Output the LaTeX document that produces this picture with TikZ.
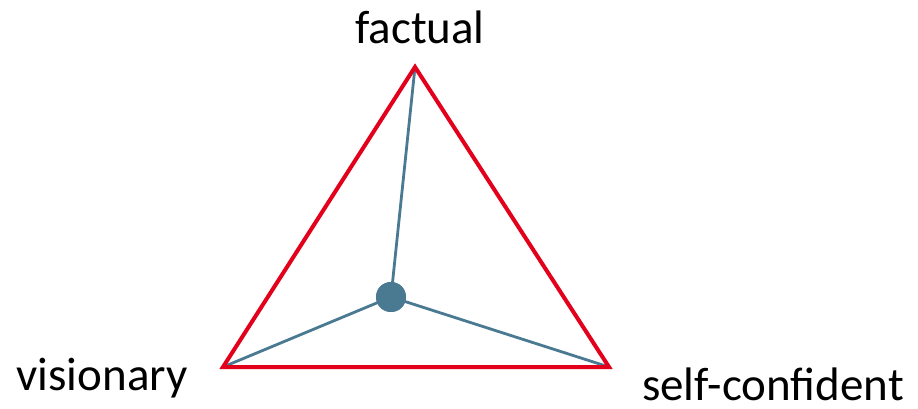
\documentclass[tikz,border=0pt]{standalone}
\usepackage{fontspec}
\setmainfont{Carlito}
\definecolor{tri}{HTML}{E3001B}
\definecolor{spoke}{HTML}{4A7A92}
\begin{document}
\begin{tikzpicture}[x=1pt,y=-1pt,
  lbl/.style={anchor=base,inner sep=0pt,font=\fontsize{47}{56}\selectfont},
  triline/.style={draw=tri,line width=4pt,line join=miter},
  spokeline/.style={draw=spoke,line width=2.8pt}]
\useasboundingbox (0,0) rectangle (918,408);
\coordinate (T) at (415,67);
\coordinate (L) at (223,367);
\coordinate (R) at (609,367);
\node[circle,fill=spoke,minimum size=30pt,inner sep=0pt] (D) at (391,297) {};
\draw[spokeline] (D.center) -- (T);
\draw[spokeline] (D.center) -- (L);
\draw[spokeline] (D.center) -- (R);
\node[circle,fill=spoke,minimum size=30pt,inner sep=0pt] at (D.center) {};
\draw[triline] (T) -- (L) -- (R) -- cycle;
\node[lbl] (f) at (420,43) {factual};
\node[lbl] (v) at (102,390) {visionary};
\node[lbl] (s) at (773,400) {self-confident};
\end{tikzpicture}
\end{document}
